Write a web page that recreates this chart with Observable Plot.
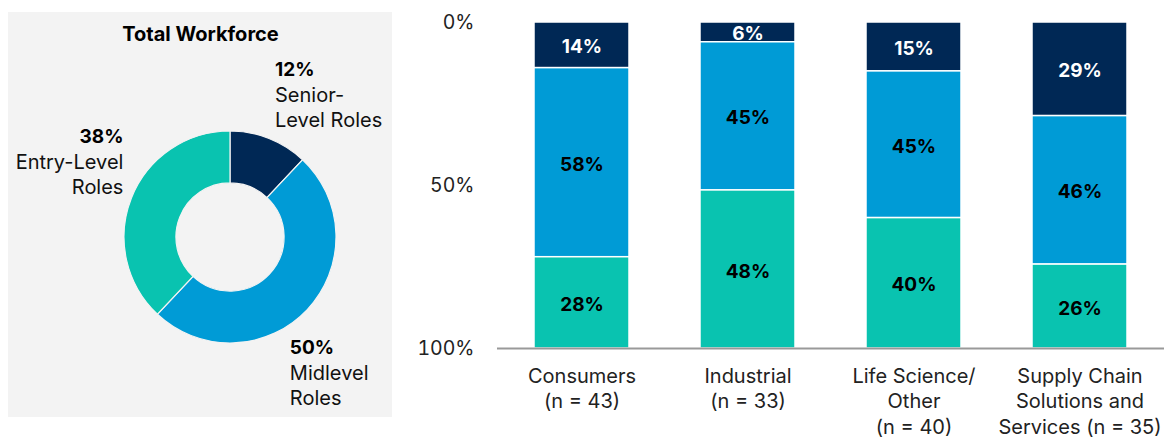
<!DOCTYPE html>
<html>
<head>
<meta charset="utf-8">
<script src="https://cdn.jsdelivr.net/npm/d3@7"></script>
<script src="https://cdn.jsdelivr.net/npm/@observablehq/plot@0.6"></script>
<style>
  html, body { margin: 0; padding: 0; background: #fff; }
  body { width: 1165px; height: 439px; position: relative; overflow: hidden; font-family: Inter, "Noto Sans", sans-serif; }
  #left { position: absolute; left: 8px; top: 12px; width: 384px; height: 405px; }
  #right { position: absolute; left: 392px; top: 0px; width: 773px; height: 439px; }
</style>
</head>
<body>
<div id="left"></div>
<div id="right"></div>
<script>
// ---- Data ----
const roles = ["Senior-Level Roles", "Midlevel Roles", "Entry-Level Roles"];
const roleColors = ["#002855", "#009bd6", "#09c3b0"];
const totalShares = [12, 50, 38];
const totalLabelLines = [["Senior-", "Level Roles"], ["Midlevel", "Roles"], ["Entry-Level", "Roles"]];

const sectors = ["Consumers\n(n = 43)", "Industrial\n(n = 33)", "Life Science/\nOther\n(n = 40)", "Supply Chain\nSolutions and\nServices (n = 35)"];
const seniorShares = [14, 6, 15, 29];
const midShares = [58, 45, 45, 46];
const entryShares = [28, 48, 40, 26];
const yTicks = [0, 50, 100];

const FONT = 'Inter, "Noto Sans", sans-serif';

// ---- Left: donut ----
{
  const W = 384, H = 405, R = 106, cx = 222, cy = 225;
  const pie = d3.pie().sort(null).value(d => d.value);
  const pieData = pie(roles.map((r, i) => ({role: r, value: totalShares[i], color: roleColors[i]})));
  const xd = [-cx / R, (W - cx) / R];
  const yd = [-(H - cy) / R, cy / R];
  // label anchor points (in radius units) and alignment
  const labelPos = [
    {x: 0.42, y: 1.58, anchor: "start"},
    {x: 0.56, y: -1.04, anchor: "start"},
    {x: -1.01, y: 0.95, anchor: "end"}
  ];
  const labelRows = [];
  roles.forEach((r, i) => {
    labelRows.push({x: labelPos[i].x, y: labelPos[i].y, text: totalShares[i] + "%", bold: true, anchor: labelPos[i].anchor});
    totalLabelLines[i].forEach((t, j) => {
      labelRows.push({x: labelPos[i].x, y: labelPos[i].y - (j + 1) * 25.5 / R, text: t, bold: false, anchor: labelPos[i].anchor});
    });
  });
  const donutMark = (index, scales) => {
    const g = d3.create("svg:g");
    const x0 = scales.x(0), y0 = scales.y(0);
    const rOuter = scales.x(1) - scales.x(0);
    const arc = d3.arc().innerRadius(rOuter * 0.51).outerRadius(rOuter);
    g.attr("transform", `translate(${x0},${y0})`)
      .selectAll("path")
      .data(pieData)
      .join("path")
      .attr("d", arc)
      .attr("fill", d => d.data.color)
      .attr("stroke", "#f3f3f3")
      .attr("stroke-width", 1.2);
    return g.node();
  };
  const textMarks = [];
  for (const anchor of ["start", "end"]) {
    textMarks.push(Plot.text(labelRows.filter(d => d.bold && d.anchor === anchor), {x: "x", y: "y", text: "text", textAnchor: anchor, fontSize: 19, fontWeight: 700, fill: "#000"}));
    textMarks.push(Plot.text(labelRows.filter(d => !d.bold && d.anchor === anchor), {x: "x", y: "y", text: "text", textAnchor: anchor, fontSize: 20, fontWeight: 400, fill: "#111"}));
  }
  const plot = Plot.plot({
    width: W, height: H,
    margin: 0,
    style: {background: "#f3f3f3", fontFamily: FONT, overflow: "visible"},
    x: {domain: xd, range: [0, W], axis: null},
    y: {domain: yd, range: [H, 0], axis: null},
    marks: [
      donutMark,
      Plot.text(["Total Workforce"], {frameAnchor: "top", dy: 14, text: d => d, fontSize: 20, fontWeight: 700, fill: "#000"}),
      ...textMarks
    ]
  });
  document.getElementById("left").append(plot);
}

// ---- Right: stacked bars ----
{
  const rows = [];
  sectors.forEach((s, i) => {
    rows.push({sector: s, role: roles[0], value: seniorShares[i]});
    rows.push({sector: s, role: roles[1], value: midShares[i]});
    rows.push({sector: s, role: roles[2], value: entryShares[i]});
  });
  const stackOpts = {x: "sector", y: "value", z: "role", order: roles, offset: "normalize"};
  const plot = Plot.plot({
    width: 773, height: 439,
    marginLeft: 105, marginRight: 1, marginTop: 22, marginBottom: 91,
    style: {fontFamily: FONT, fontSize: "19px", color: "#222", overflow: "visible"},
    x: {domain: sectors, paddingInner: 0.425, paddingOuter: 0.21, label: null},
    y: {domain: [0, 1], reverse: true, label: null},
    color: {domain: roles, range: roleColors},
    marks: [
      Plot.barY(rows, Plot.stackY({...stackOpts, fill: "role", stroke: "#ffffff", strokeWidth: 1.5})),
      Plot.text(rows, Plot.stackY({...stackOpts, text: d => d.value + "%", fill: d => d.role === roles[0] ? "#ffffff" : "#000000", fontWeight: 700, fontSize: 19, dy: 2})),
      Plot.axisX({tickSize: 0, tickPadding: 16, lineHeight: 1.28, fontSize: 20, label: null, fill: "#222"}),
      Plot.axisY({ticks: yTicks.map(d => d / 100), tickFormat: d => Math.round(d * 100) + "%", tickSize: 0, tickPadding: 23, fontSize: 19.5, label: null, fill: "#222"}),
      Plot.ruleX([0], {frameAnchor: "left", stroke: "#999", strokeWidth: 2}),
      Plot.ruleY([1], {stroke: "#999", strokeWidth: 2})
    ]
  });
  document.getElementById("right").append(plot);
}
</script>
</body>
</html>
